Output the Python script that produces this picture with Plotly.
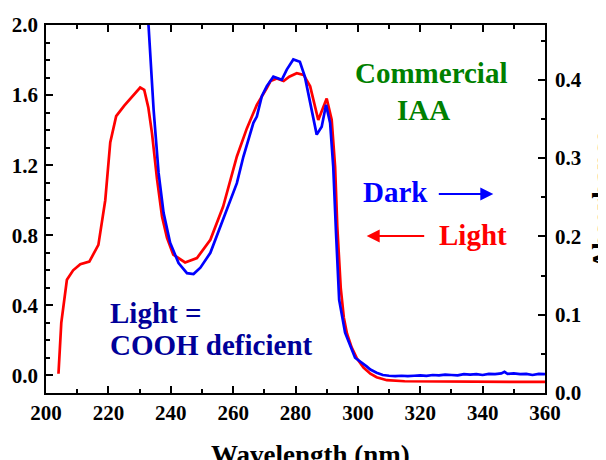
import plotly.graph_objects as go

# Light (red) – left axis
light_wl = [204.0, 204.9, 206.7, 208.7, 211.0, 213.9, 216.8, 218.4, 219.0, 220.6, 222.5, 225.1,
            227.6, 230.2, 231.5, 232.8, 234.0, 235.6, 237.2, 238.8, 240.8, 244.6, 248.4, 252.7,
            256.8, 261.2, 264.4, 267.6, 270.8, 272.0, 274.0, 276.2, 278.0, 280.4, 282.6, 284.7,
            287.3, 290.0, 291.6, 292.7, 293.4, 294.5, 295.5, 296.5, 298.0, 299.6, 301.8, 304.0,
            306.0, 309.3, 315.0, 330.0, 345.0, 360.0]
light_abs = [0.01, 0.30, 0.546, 0.60, 0.635, 0.65, 0.745, 0.93, 1.0, 1.33, 1.48, 1.54,
             1.59, 1.643, 1.63, 1.53, 1.38, 1.12, 0.907, 0.785, 0.69, 0.645, 0.67, 0.774,
             0.964, 1.25, 1.41, 1.544, 1.64, 1.68, 1.695, 1.68, 1.705, 1.725, 1.715, 1.65,
             1.458, 1.58, 1.46, 1.19, 0.85, 0.50, 0.33, 0.24, 0.16, 0.10, 0.045, 0.01,
             -0.01, -0.027, -0.033, -0.035, -0.036, -0.037]

# Dark (blue) – right axis
dark_wl = [231.5, 232.9, 234.5, 236.1, 237.7, 239.8, 242.5, 245.2, 247.3, 249.5, 252.7, 255.9,
           259.1, 261.2, 263.3, 266.5, 267.6, 269.2, 270.8, 272.9, 275.6, 277.2, 279.3, 281.4,
           283.0, 285.2, 286.8, 288.4, 289.8, 291.1, 292.1, 293.0, 294.0, 295.9, 299.1, 302.8,
           304, 306, 308, 310, 312, 314, 316, 318, 320, 322, 324, 326, 328, 330, 332, 334,
           336, 338, 340, 342, 344, 346, 347, 348, 350, 352, 354, 356, 358, 360]
dark_abs = [0.53, 0.468, 0.362, 0.281, 0.230, 0.192, 0.166, 0.153, 0.152, 0.160, 0.179, 0.213,
            0.247, 0.268, 0.302, 0.345, 0.353, 0.379, 0.392, 0.404, 0.40, 0.413, 0.426, 0.423,
            0.404, 0.361, 0.330, 0.340, 0.368, 0.345, 0.289, 0.204, 0.119, 0.077, 0.045, 0.034,
            0.030, 0.026, 0.023, 0.022, 0.0215, 0.022, 0.0215, 0.022, 0.0225, 0.022, 0.023, 0.0225,
            0.0235, 0.023, 0.0225, 0.024, 0.0235, 0.024, 0.023, 0.0245, 0.024, 0.025, 0.027, 0.0245,
            0.025, 0.024, 0.0245, 0.023, 0.0245, 0.024]

x_ticks = [200, 220, 240, 260, 280, 300, 320, 340, 360]
y_left_ticks = [0.0, 0.4, 0.8, 1.2, 1.6, 2.0]
y_right_ticks = [0.0, 0.1, 0.2, 0.3, 0.4]

FONT = "Liberation Serif, serif"
W, H = 606, 460
OFF = 8  # page body margin
ML, MR, MT, MB = 38, 69, 17, 75
PW, PH = W - ML - MR, H - MT - MB


def px(xs):
    return (xs - OFF - ML) / PW


def py(ys):
    return (H - MB - (ys - OFF)) / PH


def bold(vals, fmt):
    return ["<b>" + format(v, fmt) + "</b>" for v in vals]


fig = go.Figure()
fig.add_trace(go.Scatter(x=light_wl, y=light_abs, mode="lines", name="Light",
                         line=dict(color="#ff0000", width=2.7), yaxis="y"))
fig.add_trace(go.Scatter(x=dark_wl, y=dark_abs, mode="lines", name="Dark",
                         line=dict(color="#0000ff", width=2.7), yaxis="y2"))

tickfont = dict(family=FONT, size=21, color="black")
axcommon = dict(showline=True, linecolor="black", linewidth=1.5, showgrid=False,
                zeroline=False, ticks="inside", tickcolor="black", tickwidth=1.5,
                tickfont=tickfont, automargin=False, ticklen=7)

fig.update_layout(
    width=W, height=H,
    margin=dict(l=ML, r=MR, t=MT, b=MB, autoexpand=False),
    plot_bgcolor="white", paper_bgcolor="white",
    showlegend=False,
    font=dict(family=FONT),
    xaxis=dict(range=[200, 360], tickvals=x_ticks, ticktext=bold(x_ticks, "d"), mirror="ticks",
               minor=dict(dtick=10, ticklen=4, ticks="inside", tickcolor="black", tickwidth=1.5),
               ticklabelstandoff=0, **axcommon),
    yaxis=dict(range=[-0.1, 2.0], tickvals=y_left_ticks, ticktext=bold(y_left_ticks, ".1f"),
               minor=dict(dtick=0.1, tick0=0, ticklen=4, ticks="inside", tickcolor="black", tickwidth=1.5),
               ticklabelstandoff=2, **axcommon),
    yaxis2=dict(range=[0, 0.47], tickvals=y_right_ticks, ticktext=bold(y_right_ticks, ".1f"),
                overlaying="y", side="right", anchor="x",
                minor=dict(dtick=0.05, tick0=0, ticklen=4, ticks="inside", tickcolor="black", tickwidth=1.5),
                ticklabelstandoff=4, **axcommon),
)


def ann(text, x, y, color, size=29, xanchor="center", angle=0):
    fig.add_annotation(text="<b>" + text + "</b>", x=px(x), y=py(y), xref="paper", yref="paper",
                       xanchor=xanchor, yanchor="middle", showarrow=False, textangle=angle,
                       font=dict(family=FONT, size=size, color=color))


ann("Commercial", 430.8, 73, "#008000")
ann("IAA", 423.3, 109.7, "#008000")
ann("Dark", 395.3, 192.2, "#0000ff")
ann("Light", 472.5, 234.5, "#ff0000")
ann("Light =", 108.3, 313.3, "#000099", xanchor="left")
ann("COOH deficient", 108.3, 345, "#000099", xanchor="left")
ann("Wavelength (nm)", 310, 455, "black", size=27)
ann("Absorbance", 602, 200, "black", size=27, angle=-90)

# arrows
fig.add_annotation(x=px(493.3), y=py(194), xref="paper", yref="paper", text="",
                   showarrow=True, ax=-56, ay=0, arrowhead=2, arrowsize=1.3,
                   arrowwidth=2, arrowcolor="#0000ff")
fig.add_annotation(x=px(366.7), y=py(236), xref="paper", yref="paper", text="",
                   showarrow=True, ax=59, ay=0, arrowhead=2, arrowsize=1.3,
                   arrowwidth=2, arrowcolor="#ff0000")

fig.write_html("out.html")
